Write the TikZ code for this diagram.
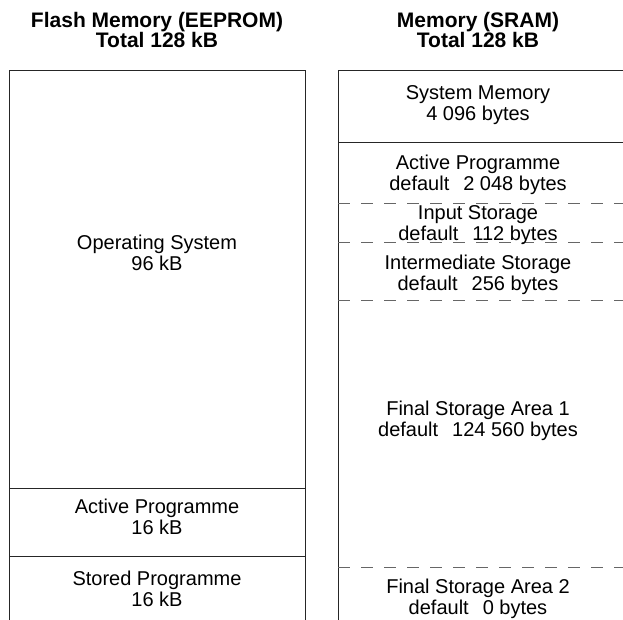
\documentclass[tikz,border=0pt]{standalone}
\usepackage{fontspec}
\setmainfont{Liberation Sans}
\newcommand{\gapsp}{\hspace{0.7em}}
\begin{document}
\begin{tikzpicture}[x=1pt,y=-1pt,
  frame/.style={draw=black!85, line width=1pt},
  divider/.style={draw=black!60, line width=1pt, dash pattern=on 12pt off 11pt},
  txt/.style={align=center, inner sep=0pt, font=\fontsize{20}{20.5}\selectfont},
  head/.style={align=center, inner sep=0pt, font=\bfseries\fontsize{21}{20}\selectfont}]
\useasboundingbox (0,0) rectangle (623,619);
\clip (0,0) rectangle (623,619);

% Flash memory column
\draw[frame] (9,625) -- (9,70) -- (305,70) -- (305,625);
\draw[frame] (9,488) -- (305,488);
\draw[frame] (9,556) -- (305,556);

% SRAM column
\draw[frame] (338,625) -- (338,70) -- (640,70);
\draw[frame] (338,142) -- (640,142);
\draw[divider] (338,203) -- (640,203);
\draw[divider] (338,242) -- (640,242);
\draw[divider] (338,300) -- (640,300);
\draw[divider] (338,567) -- (640,567);

% Column headings
\node[head] (flashhead) at (157,30) {Flash Memory (EEPROM)\\Total 128 kB};
\node[head] (sramhead) at (478,30) {Memory (SRAM)\\Total 128 kB};

% Flash contents
\node[txt] (os) at (157,253) {Operating System\\96 kB};
\node[txt] (activeflash) at (157,517) {Active Programme\\16 kB};
\node[txt] (stored) at (157,589) {Stored Programme\\16 kB};

% SRAM contents
\node[txt] (sysmem) at (478,105) {System Memory\\4 096 bytes};
\node[txt] (activesram) at (478,175) {Active Programme\\default\gapsp 2 048 bytes};
\node[txt] (input) at (478,225) {Input Storage\\default\gapsp 112 bytes};
\node[txt] (inter) at (478,275) {Intermediate Storage\\default\gapsp 256 bytes};
\node[txt] (final1) at (478,421) {Final Storage Area 1\\default\gapsp 124 560 bytes};
\node[txt] (final2) at (478,599) {Final Storage Area 2\\default\gapsp 0 bytes};
\end{tikzpicture}
\end{document}
